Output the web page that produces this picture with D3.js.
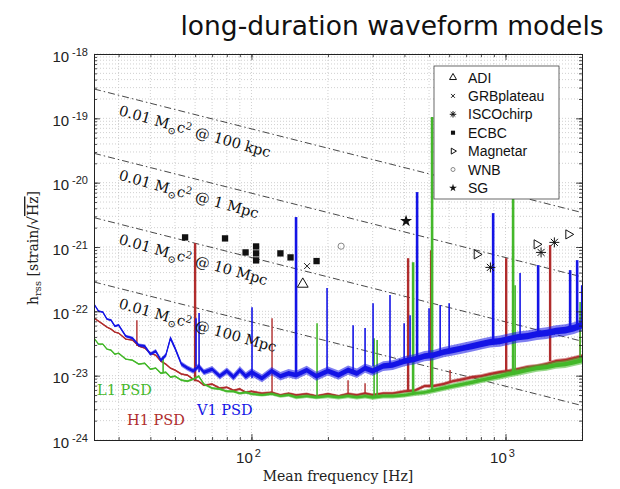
<!DOCTYPE html>
<html lang="en">
<meta charset="utf-8">
<head>
<script src="https://cdn.jsdelivr.net/npm/d3@7"></script>
<style>
  body { margin: 0; background: #fff; }
  .tick-lbl { font-family: "Liberation Sans", Arial, sans-serif; font-size: 15px; fill: #222; }
  .serif { font-family: "DejaVu Serif", serif; }
</style>
</head>
<body>
<svg id="chart" width="620" height="489"></svg>
<script>
// frequency grid of the PSD curves [Hz]
var freqs = [24,25,26,27,28,29,30, 32,34,36,38,40,42,44,46,48,50, 53,56,59,62,65,
  70,75,80,85,90,95,100, 110,120,130,140,150, 165,180,200,220,240,260,280,300,
  330,360,400,440,480,520,570,620,680,740,800,870,950,
  1030,1120,1220,1330,1450,1580,1720,1860,2000];

// noise curves, in units of 1e-23 strain/sqrt(Hz)
var h1Psd = [7.85,7.05,6.33,5.69,5.29,4.75,4.59, 3.70,3.57,2.88,2.68,2.24,2.08,1.68,1.51,1.31,1.22,
  1.06,1.02,0.88,0.82,0.71, 0.74,0.64,0.66,0.59,0.62,0.55,0.57, 0.53,0.55,0.50,0.53,0.50,
  0.52,0.48,0.52,0.48,0.52,0.50,0.53,0.50,
  0.53,0.53,0.57,0.59,0.69,0.69,0.74,0.82,0.88,0.95,0.98,1.06,1.13,
  1.18,1.26,1.36,1.41,1.51,1.68,1.74,1.87,2.01];
var l1Psd = [3.83,3.09,3.09,2.58,2.49,2.16,2.24, 1.81,1.74,1.51,1.56,1.26,1.31,1.09,1.13,0.95,0.98,
  0.85,0.82,0.88,0.98,0.74, 0.64,0.62,0.57,0.57,0.53,0.55,0.52, 0.50,0.52,0.48,0.50,0.46,
  0.48,0.46,0.48,0.46,0.48,0.46,0.48,0.46,
  0.48,0.48,0.50,0.53,0.55,0.59,0.64,0.69,0.74,0.79,0.85,0.91,0.98,
  1.06,1.13,1.22,1.31,1.36,1.46,1.51,1.62,1.74];
var v1Psd = [12.97,10.09,9.74,7.58,7.31,5.89,6.11, 4.12,3.83,2.98,2.88,2.16,2.41,1.74,2.08,3.83,2.68,
  1.51,1.31,1.18,1.41,1.13, 1.26,0.98,1.18,0.95,1.22,0.98,1.13, 0.91,1.18,0.98,1.09,1.02,
  1.22,0.98,1.18,1.02,1.22,1.09,1.31,1.18,
  1.41,1.46,1.68,1.81,2.01,2.08,2.32,2.49,2.68,2.88,3.09,3.32,3.44,
  3.70,3.97,4.12,4.42,4.59,4.93,5.11,5.49,6.11];

// narrow spectral lines: [frequency Hz, peak value 1e-23]
var h1Lines = [[35.4,7.3],[60.0,115],[120.5,7.8],[240,0.85],[280,0.76],[413.6,67],[509.5,89],
  [605,1.22],[1006,67],[1498,107],[1966,8]];
var l1Lines = [[44.9,2.0],[181.2,6.55],[303.9,3.8],[312.3,3.6],[432.8,58],[514,10470],
  [1071,3200],[1091,25.5],[1966,14]];
var v1Lines = [[60.5,7.8],[62.2,9.4],[100.5,11.6],[149.8,292],[198.4,23],[251.2,6.1],[280,5.5],
  [301,13.4],[351,17.9],[399,6.55],[421,8.7],[448.7,714],[500,11.2],[553,12.5],[600,13.4],
  [894,336],[1141,39.3],[1344,52.3],[1796,43.7],[1914,62.5],[1995,25.5]];

// 0.01 Msun c^2 iso-energy lines: value at 24 Hz and at 2000 Hz
var refNames = ["100 kpc", "1 Mpc", "10 Mpc", "100 Mpc"];
var refAt24 = [2.86e-19, 2.86e-20, 2.86e-21, 2.86e-22];
var refAt2000 = [3.43e-21, 3.43e-22, 3.43e-23, 3.43e-24];

// search targets
var ecbc = [[54.8,1.41e-21],[78.7,1.36e-21],[94.8,8.24e-22],[104.3,1.02e-21],[104.3,7.96e-22],
  [104.3,6.19e-22],[130,7.96e-22],[142.5,6.89e-22],[180.4,6.04e-22]];
var adi = [[159.2,2.65e-22]];
var grb = [[165.5,5.05e-22]];
var wnb = [[225.4,1.03e-21]];
var sg = [[406,2.53e-21]];
var magnetar = [[771,7.67e-22],[1327,1.10e-21],[1769,1.57e-21]];
var isco = [[872,4.82e-22],[1380,8.24e-22],[1557,1.18e-21]];

var legendNames = ["ADI","GRBplateau","ISCOchirp","ECBC","Magnetar","WNB","SG"];
var xTicks = [100, 1000];
var yTicks = [1e-24,1e-23,1e-22,1e-21,1e-20,1e-19,1e-18];

var svg = d3.select("#chart");
var x = d3.scaleLog().domain([24, 2000]).range([94, 582]);
var y = d3.scaleLog().domain([1e-24, 1e-18]).range([440, 54]);

var blue = "#1414e6", red = "#b02c2c", green = "#44b82a";

svg.append("defs").append("clipPath").attr("id", "clip")
  .append("rect").attr("x", 94).attr("y", 54).attr("width", 488).attr("height", 386);

// grid
var grid = svg.append("g").attr("stroke", "#c4c4c4").attr("stroke-width", 0.8).attr("stroke-dasharray", "1,2");
grid.selectAll(".gx").data(x.ticks()).enter().append("line")
  .attr("x1", d => x(d)).attr("x2", d => x(d)).attr("y1", 54).attr("y2", 440);
grid.selectAll(".gy").data(y.ticks()).enter().append("line")
  .attr("y1", d => y(d)).attr("y2", d => y(d)).attr("x1", 94).attr("x2", 582);

// reference energy lines
var refG = svg.append("g").attr("clip-path", "url(#clip)");
refNames.forEach(function(name, i) {
  refG.append("line")
    .attr("x1", x(24)).attr("y1", y(refAt24[i]))
    .attr("x2", x(2000)).attr("y2", y(refAt2000[i]))
    .attr("stroke", "#333").attr("stroke-width", 0.9)
    .attr("stroke-dasharray", "7,3,1.5,3");
});

// PSD curves: faint band for the noise spread, denser core band, thin line on top
function drawPsd(vals, lines, color, widths, spikeW) {
  var g = svg.append("g").attr("clip-path", "url(#clip)");
  var wScale = d3.scaleLog().domain([24, 100, 400, 2000]).range(widths);
  var pts = freqs.map(function(f, i) { return { f: f, v: vals[i] * 1e-23 }; });
  [[0.5, 0.55], [0.28, 1]].forEach(function(pass) {
    g.append("path").datum(pts)
      .attr("d", d3.area()
        .x(d => x(d.f))
        .y0(d => y(d.v) + wScale(d.f) * pass[0])
        .y1(d => y(d.v) - wScale(d.f) * pass[0]))
      .attr("fill", color).attr("fill-opacity", pass[1]);
  });
  g.append("path").datum(pts)
    .attr("d", d3.line().x(d => x(d.f)).y(d => y(d.v)))
    .attr("fill", "none").attr("stroke", color).attr("stroke-width", 1.3);
  lines.forEach(function(l) {
    var j = d3.bisectLeft(freqs, l[0]);
    j = Math.min(j, freqs.length - 1);
    g.append("line")
      .attr("x1", x(l[0])).attr("x2", x(l[0]))
      .attr("y1", y(vals[j] * 1e-23)).attr("y2", y(l[1] * 1e-23))
      .attr("stroke", color)
      .attr("stroke-width", l[1] > 40 ? spikeW + 1 : spikeW);
  });
}
drawPsd(h1Psd, h1Lines, red, [1, 2.5, 3.5, 4.5], 1.4);
drawPsd(l1Psd, l1Lines, green, [1, 3, 5, 8], 1.6);
drawPsd(v1Psd, v1Lines, blue, [1.5, 8, 10, 12], 1.6);

// labels on the energy lines
refNames.forEach(function(name, i) {
  var x0 = x(24), x1 = x(2000), y0 = y(refAt24[i]), y1 = y(refAt2000[i]);
  var slope = (y1 - y0) / (x1 - x0);
  var tx = 118, ty = y0 + slope * (tx - x0) + 20;
  var ang = Math.atan(slope) * 180 / Math.PI + 1.5;
  var t = svg.append("text").attr("class", "serif")
    .attr("transform", "translate(" + tx + "," + ty + ") rotate(" + ang + ")")
    .attr("font-size", 14.5).attr("fill", "#111");
  t.append("tspan").text("0.01 M");
  t.append("tspan").attr("font-size", 10).attr("dy", 4).text("\u2299");
  t.append("tspan").attr("dy", -4).text("c");
  t.append("tspan").attr("font-size", 10).attr("dy", -5).text("2");
  t.append("tspan").attr("dy", 5).text(" @ " + name);
});

// markers
function cross(r) { return "M" + (-r) + "," + (-r) + "L" + r + "," + r + "M" + (-r) + "," + r + "L" + r + "," + (-r); }
function aster(r) {
  var p = "";
  for (var k = 0; k < 4; k++) {
    var a = k * Math.PI / 4;
    p += "M" + (-r * Math.cos(a)) + "," + (-r * Math.sin(a)) + "L" + (r * Math.cos(a)) + "," + (r * Math.sin(a));
  }
  return p;
}
var markerStyles = {
  ADI: { path: s => d3.symbol(d3.symbolTriangle, 50 * s * s)(), fill: "none", stroke: "#111", rot: 0 },
  GRBplateau: { path: s => cross(3 * s), fill: "none", stroke: "#222", rot: 0 },
  ISCOchirp: { path: s => aster(5 * s), fill: "none", stroke: "#111", rot: 0 },
  ECBC: { path: s => d3.symbol(d3.symbolSquare, 40 * s * s)(), fill: "#111", stroke: "none", rot: 0 },
  Magnetar: { path: s => d3.symbol(d3.symbolTriangle, 36 * s * s)(), fill: "none", stroke: "#111", rot: 90 },
  WNB: { path: s => d3.symbol(d3.symbolCircle, 30 * s * s)(), fill: "none", stroke: "#888", rot: 0 },
  SG: { path: s => d3.symbol(d3.symbolStar, 45 * s * s)(), fill: "#111", stroke: "none", rot: 0 }
};
var markerData = { ADI: adi, GRBplateau: grb, ISCOchirp: isco, ECBC: ecbc, Magnetar: magnetar, WNB: wnb, SG: sg };

function addMarker(g, name, cx, cy, s) {
  var st = markerStyles[name];
  g.append("path").attr("d", st.path(s))
    .attr("transform", "translate(" + cx + "," + cy + ") rotate(" + st.rot + ")")
    .attr("fill", st.fill).attr("stroke", st.stroke).attr("stroke-width", 1);
}
var mk = svg.append("g");
legendNames.forEach(function(name) {
  markerData[name].forEach(function(d) { addMarker(mk, name, x(d[0]), y(d[1]), 1); });
});

// axes box + ticks on all sides, pointing inward
function axisSet(axisFn, scale, major, tr) {
  var g1 = svg.append("g").attr("transform", tr)
    .call(axisFn(scale).tickValues(scale.ticks()).tickSize(-3).tickFormat(""));
  var g2 = svg.append("g").attr("transform", tr)
    .call(axisFn(scale).tickValues(major).tickSize(-6).tickFormat(""));
  [g1, g2].forEach(function(g) {
    g.selectAll("line").attr("stroke", "#222").attr("stroke-width", 0.8);
    g.select(".domain").attr("stroke", "#222").attr("stroke-width", 1);
  });
}
axisSet(d3.axisBottom, x, xTicks, "translate(0,440)");
axisSet(d3.axisTop, x, xTicks, "translate(0,54)");
axisSet(d3.axisLeft, y, yTicks, "translate(94,0)");
axisSet(d3.axisRight, y, yTicks, "translate(582,0)");

// tick labels
yTicks.forEach(function(v) {
  var t = svg.append("text").attr("class", "tick-lbl").attr("text-anchor", "end")
    .attr("x", 88).attr("y", y(v) + 7.5);
  t.append("tspan").text("10");
  t.append("tspan").attr("font-size", 11).attr("dx", 3).attr("dy", -6).text(Math.round(Math.log10(v)));
});
xTicks.forEach(function(v) {
  var t = svg.append("text").attr("class", "tick-lbl").attr("text-anchor", "middle")
    .attr("x", x(v) - 3).attr("y", 463);
  t.append("tspan").text("10");
  t.append("tspan").attr("font-size", 11).attr("dx", 2).attr("dy", -6).text(Math.round(Math.log10(v)));
});

// axis titles
svg.append("text").attr("class", "serif").attr("font-size", 14).attr("fill", "#222")
  .attr("text-anchor", "middle").attr("x", 338).attr("y", 481).text("Mean frequency [Hz]");
var yl = svg.append("text").attr("class", "serif").attr("font-size", 14).attr("fill", "#222")
  .attr("text-anchor", "middle").attr("transform", "translate(38,248) rotate(-90)");
yl.append("tspan").text("h");
yl.append("tspan").attr("font-size", 10).attr("dy", 3).text("rss");
yl.append("tspan").attr("dy", -3).text(" [strain/\u221A");
yl.append("tspan").style("text-decoration", "overline").text("Hz");
yl.append("tspan").text("]");

// PSD labels
svg.append("text").attr("class", "serif").attr("font-size", 14.5).attr("fill", green)
  .attr("x", 97).attr("y", 395).text("L1 PSD");
svg.append("text").attr("class", "serif").attr("font-size", 14.5).attr("fill", red)
  .attr("x", 127).attr("y", 425).text("H1 PSD");
svg.append("text").attr("class", "serif").attr("font-size", 14.5).attr("fill", blue)
  .attr("x", 197).attr("y", 415).text("V1 PSD");

// legend
var lg = svg.append("g");
lg.append("rect").attr("x", 434).attr("y", 66).attr("width", 125).attr("height", 133)
  .attr("fill", "#fff").attr("stroke", "#444").attr("stroke-width", 0.8);
legendNames.forEach(function(name, i) {
  var ry = 77.5 + i * 18.4;
  addMarker(lg, name, 453, ry, 0.65);
  lg.append("text").attr("x", 468).attr("y", ry + 5)
    .attr("font-family", "Liberation Sans, Arial, sans-serif").attr("font-size", 14).attr("fill", "#111")
    .text(name);
});

// title
svg.append("text").attr("x", 392).attr("y", 35).attr("text-anchor", "middle")
  .attr("font-family", "DejaVu Sans, sans-serif").attr("font-size", 26.5).attr("fill", "#111")
  .text("long-duration waveform models");
</script>
</body>
</html>
